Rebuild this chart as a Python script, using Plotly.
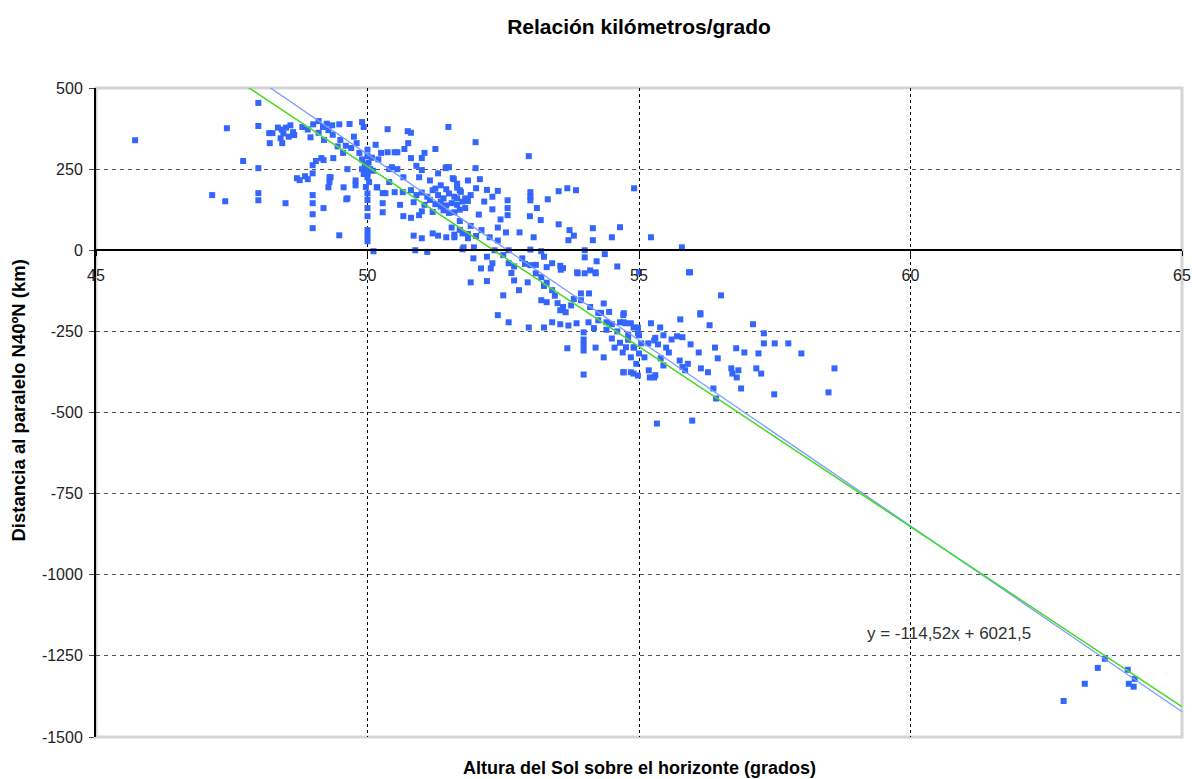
import plotly.graph_objects as go

# ---- data ----
grupo_a_x = [45.72, 47.41, 47.71, 47.14, 47.38, 47.99, 47.99, 47.99, 47.99, 47.99, 48.19, 48.49, 48.40, 48.45, 48.42,
             48.43, 48.25, 48.50, 48.35, 48.65, 48.63, 48.80, 48.90, 49.00, 49.10, 49.18, 49.28, 49.10, 49.35, 49.48,
             49.67, 49.36, 49.50, 49.60, 49.70, 49.20, 48.75, 48.90, 48.99, 48.99, 48.99, 48.99, 48.99, 48.99, 49.19,
             49.28, 49.19, 49.37, 49.32, 49.48, 49.56, 49.61, 49.63, 49.90, 49.93, 49.30, 49.30, 49.78, 49.78, 49.63,
             48.70, 48.85, 49.05, 49.15, 49.85, 49.90, 49.80, 49.55, 49.75, 49.45, 48.55, 48.95, 49.25, 48.20, 48.58,
             50.00, 50.00, 50.02, 49.98, 50.00, 50.00, 50.03, 49.97, 50.00, 50.00, 50.00, 50.00, 50.00, 50.00, 50.00,
             49.95, 50.05, 49.93, 50.08, 50.10, 49.90]
grupo_a_y = [339, 376, 275, 170, 151, 454, 383, 253, 176, 154, 361, 145, 345, 360, 372,
             330, 361, 378, 378, 355, 364, 380, 372, 388, 398, 380, 370, 362, 385, 388,
             389, 356, 340, 322, 315, 340, 216, 219, 262, 237, 170, 145, 111, 68, 130,
             194, 278, 284, 225, 46, 194, 157, 250, 395, 380, 210, 225, 200, 215, 160,
             222, 228, 275, 284, 300, 280, 330, 300, 350, 320, 350, 348, 390, 330, 385,
             310, 290, 270, 255, 240, 225, 210, 195, 175, 155, 130, 105, 62, 45, 28,
             265, 250, 235, 285, 245, 250]

grupo_b_x = [50.11, 50.37, 50.37, 50.55, 50.40, 50.55, 50.28, 50.28, 50.28, 50.18, 50.20, 50.15, 50.74, 50.80, 51.49,
             50.50, 50.68, 50.80, 51.00, 51.25, 50.45, 51.00, 51.45, 51.50, 51.57, 51.30, 50.66, 50.17, 50.33, 50.50,
             50.65, 50.80, 50.90, 51.00, 51.10, 51.20, 51.30, 51.40, 51.50, 51.60, 51.70, 51.80, 51.90, 51.15, 51.35,
             51.55, 51.75, 51.25, 51.45, 51.65, 50.85, 51.05, 51.25, 51.45, 51.65, 51.85, 50.66, 50.80, 50.95, 51.00,
             51.20, 51.40, 51.60, 51.70, 51.80, 50.85, 51.00, 51.20, 51.30, 51.45, 51.60, 51.75, 51.85, 50.88, 51.10,
             51.75, 51.99, 51.44, 51.99, 51.59, 52.07, 51.72, 52.00, 52.20, 52.40, 51.50, 51.35, 51.65, 52.58, 52.58,
             52.58, 52.30, 51.70, 51.90, 52.10, 52.40, 52.45, 51.60, 51.85, 52.00, 52.25, 52.40, 52.55, 51.77, 51.96,
             52.34, 52.20, 52.09, 52.27, 51.90, 52.20, 52.40, 51.95, 52.30, 50.40, 50.60, 50.95, 51.15, 51.35, 50.75,
             50.25, 51.05, 50.90, 51.65, 51.85, 52.15, 52.30, 52.05, 51.55, 51.70]
grupo_b_y = [-3, 373, 302, 302, 250, 250, 176, 145, 117, 194, 280, 325, 367, 362, 380,
             302, 312, 284, 284, 312, 256, 247, 256, 256, 222, 237, 225, 194, 176, 179,
             179, 185, 170, 178, 165, 185, 170, 160, 175, 165, 185, 160, 170, 155, 150,
             145, 150, 190, 188, 193, 148, 140, 142, 138, 140, 152, 105, 100, 108, 120,
             118, 123, 117, 125, 130, 45, 37, 52, 45, 40, 48, 52, 37, 0, -5,
             3, 333, 253, 253, 219, 219, 180, 191, 186, 183, 115, 135, 160, 154, 130,
             108, 126, 90, 75, 62, 70, 95, 40, 50, 44, 40, 30, 55, 9, 9,
             0, -20, -56, -56, -99, -95, -200, -25, -40, 210, 140, 225, 215, 200, 330,
             300, 300, 260, 205, 215, 150, 165, 110, 70, 63]

grupo_c_x = [52.97, 53.52, 53.68, 53.84, 54.91, 53.00, 53.00, 53.00, 53.32, 53.12, 52.99, 53.19, 53.52, 53.70, 53.72,
             53.80, 54.15, 54.15, 54.50, 54.65, 53.06, 52.80, 52.60, 53.00, 53.20, 52.50, 52.85, 53.25, 54.00, 54.00,
             54.22, 54.37, 52.70, 53.00, 53.30, 53.55, 53.60, 54.60, 52.60, 52.65, 52.70, 52.90, 53.10, 53.40, 53.10,
             53.20, 52.95, 53.25, 53.40, 53.56, 52.50, 52.79, 53.20, 53.30, 53.50, 53.60, 53.65, 53.55, 53.75, 53.93,
             54.08, 53.93, 53.87, 54.00, 54.10, 54.20, 54.25, 54.30, 54.35, 54.72, 54.25, 54.40, 54.50, 54.65, 54.75,
             54.90, 53.40, 53.55, 53.70, 53.85, 54.07, 52.97, 53.25, 52.60, 53.98, 53.98, 53.98, 53.98, 54.50, 54.55,
             54.65, 54.80, 54.90, 54.85, 53.68, 54.35, 53.98, 54.72, 54.90, 54.70, 54.71, 54.72, 54.85, 54.98, 54.98,
             54.76, 54.91, 54.85, 54.98, 54.71, 53.86, 54.20, 53.30, 53.45, 53.80, 54.10, 54.45, 54.60, 54.80, 54.95,
             54.40, 54.17, 54.20]
grupo_c_y = [290, 182, 191, 185, 191, 154, 179, 165, 157, 130, 105, 93, 80, 31, 62,
             45, 31, 68, 40, 71, 40, 55, 0, 2, -3, -15, -25, -20, -22, 0,
             -34, -12, -50, -46, -52, -48, -55, -50, -40, -70, -93, -42, -45, -40, -71,
             -83, -99, -110, -123, -60, -139, -123, -154, -160, -163, -175, -191, -185, -170, -133,
             -133, -154, -71, -71, -62, -71, -193, -193, -164, -194, -216, -222, -228, -222, -225,
             -238, -222, -228, -232, -225, -222, -238, -238, -222, -253, -275, -292, -309, -272, -300,
             -285, -276, -300, -330, -302, -330, -383, -376, -380, -315, -200, -222, -225, -238, -256,
             -299, -299, -376, -386, -376, -68, -68, -100, -140, -150, -175, -190, -250, -260, -350,
             -245, -240, -300]

grupo_d_x = [55.00, 55.04, 55.00, 55.22, 55.39, 55.76, 56.13, 55.30, 55.45, 55.60, 55.70, 55.50, 55.55, 55.35, 55.80,
             55.95, 56.10, 55.18, 55.20, 55.30, 55.40, 55.45, 55.75, 55.80, 55.85, 55.90, 56.14, 56.27, 56.30, 56.40,
             56.45, 56.37, 56.42, 55.98, 55.33, 56.79, 56.94, 56.70, 56.83, 56.80, 56.72, 56.88, 57.10, 57.20, 57.16,
             57.25, 57.30, 57.30, 57.50, 57.75, 57.99, 57.49, 58.60, 58.49, 55.79, 56.51, 55.94, 56.13, 55.22, 55.92,
             55.00, 55.17, 55.28, 55.28, 55.10]
grupo_d_y = [-262, -287, -318, -225, -238, -213, -194, -270, -262, -275, -265, -300, -315, -290, -268,
             -290, -315, -370, -392, -385, -333, -355, -340, -360, -370, -350, -364, -376, -231, -300,
             -333, -426, -457, -525, -534, -302, -315, -364, -370, -392, -380, -426, -228, -318, -364,
             -380, -256, -287, -287, -287, -318, -444, -364, -438, 9, -139, -68, -198, 40, -68,
             -68, -287, -278, -392, -330]

grupo_e_x = [63.58, 63.45, 63.21, 62.82, 64.00, 64.13, 64.02, 64.11]
grupo_e_y = [-1259, -1287, -1336, -1389, -1293, -1321, -1336, -1345]

# trend line (shown in the chart) and theoretical 111 km/degree line
trend_slope, trend_intercept = -114.52, 6021.5
theo_slope, theo_intercept = -111.0, 5808.0
line_x = [45, 65]

x_ticks = [45, 50, 55, 60, 65]
y_ticks = [500, 250, 0, -250, -500, -750, -1000, -1250, -1500]
y_tick_text = ["500", "250", "0", "-250", "-500", "-750", "-1000", "-1250", "-1500"]

title_text = "Relación kilómetros/grado"
x_title = "Altura del Sol sobre el horizonte (grados)"
y_title = "Distancia al paralelo N40ºN (km)"
eq_text = "y = -114,52x + 6021,5"

# ---- figure ----
xs = grupo_a_x + grupo_b_x + grupo_c_x + grupo_d_x + grupo_e_x
ys = grupo_a_y + grupo_b_y + grupo_c_y + grupo_d_y + grupo_e_y

FONT = "Liberation Sans, Arial, sans-serif"
fig = go.Figure()

fig.add_trace(go.Scatter(x=xs, y=ys, mode="markers",
                         marker=dict(symbol="square", size=6, color="#3366ff", line=dict(width=0)),
                         showlegend=False))
fig.add_trace(go.Scatter(x=line_x, y=[theo_slope * v + theo_intercept for v in line_x],
                         mode="lines", line=dict(color="#ff9966", width=1.3), showlegend=False))
fig.add_trace(go.Scatter(x=line_x, y=[trend_slope * v + trend_intercept for v in line_x],
                         mode="lines", line=dict(color="#7c9cff", width=1.3), showlegend=False))
fig.add_trace(go.Scatter(x=line_x, y=[theo_slope * v + theo_intercept for v in line_x],
                         mode="lines", line=dict(color="#22ee22", width=1.3), showlegend=False))

fig.update_layout(
    width=1192, height=779,
    margin=dict(l=96, r=10, t=88, b=42, autoexpand=False),
    paper_bgcolor="white", plot_bgcolor="white",
    font=dict(family=FONT, color="black"),
    title=dict(text="<b>" + title_text + "</b>", x=0.5, xref="paper", y=1 - 27 / 779,
               yanchor="middle", xanchor="center", font=dict(size=21, family=FONT, color="black")),
    xaxis=dict(range=[45, 65], tickvals=x_ticks, anchor="free", position=0.75, automargin=False,
               showline=True, linecolor="black", linewidth=2,
               ticks="outside", ticklen=5, tickcolor="black", ticklabelstandoff=6,
               showgrid=True, gridcolor="black", gridwidth=1, griddash="dot",
               zeroline=False, tickfont=dict(size=16, family=FONT, color="#222")),
    yaxis=dict(range=[-1500, 500], tickvals=y_ticks, ticktext=y_tick_text, domain=[0, 1],
               automargin=False,
               showline=True, linecolor="black", linewidth=2,
               ticks="outside", ticklen=5, tickcolor="#444", ticklabelstandoff=3,
               showgrid=True, gridcolor="#555", gridwidth=1, griddash="4px,4px",
               zeroline=False, tickfont=dict(size=16, family=FONT, color="#222")),
    shapes=[dict(type="rect", xref="x domain", yref="y domain", x0=0, x1=1, y0=0, y1=1,
                 line=dict(color="#d4d4d4", width=3), layer="below")],
    annotations=[
        dict(text="<b>" + x_title + "</b>", xref="paper", yref="paper", x=0.5, y=0,
             yshift=-31, showarrow=False, font=dict(size=18, family=FONT, color="black"),
             yanchor="middle"),
        dict(text="<b>" + y_title + "</b>", xref="paper", yref="paper", x=0, y=0.5,
             xshift=-78, yshift=12, textangle=-90, showarrow=False,
             font=dict(size=18.5, family=FONT, color="black"), xanchor="center", yanchor="middle"),
        dict(text=eq_text, xref="x", yref="y", x=60.7, y=-1182, showarrow=False,
             font=dict(size=17, family=FONT, color="#333")),
    ],
)

fig.write_html("out.html", config={"displayModeBar": False},
               post_script="document.body.style.margin='0';")
